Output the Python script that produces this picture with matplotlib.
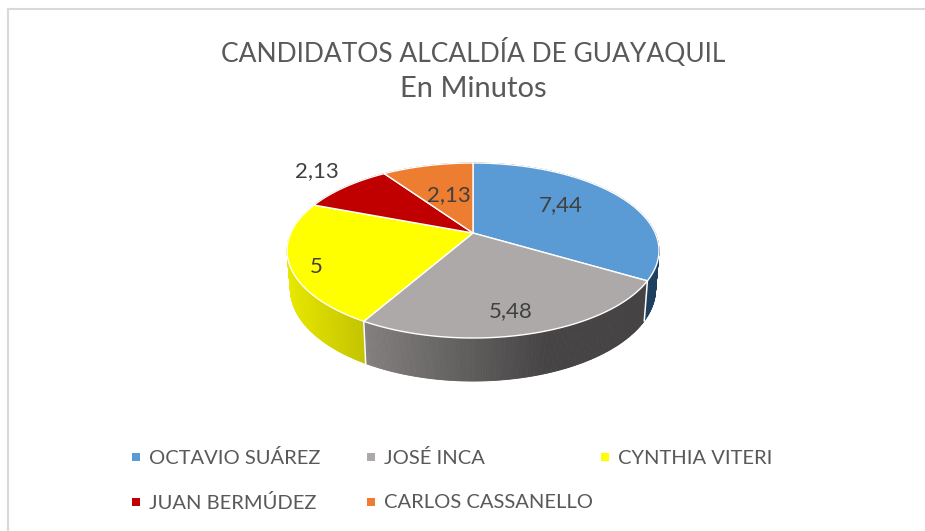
import numpy as np
import matplotlib
matplotlib.use("Agg")
import matplotlib.pyplot as plt
from matplotlib.colors import to_rgb

plt.rcParams['font.family'] = ['Lato', 'DejaVu Sans']

candidates = ["OCTAVIO SUÁREZ", "JOSÉ INCA", "CYNTHIA VITERI", "JUAN BERMÚDEZ", "CARLOS CASSANELLO"]
minutes = [7.44, 5.48, 5, 2.13, 2.13]
value_labels = ["7,44", "5,48", "5", "2,13", "2,13"]
colors = ["#5B9BD5", "#ADA9A9", "#FFFF00", "#C00000", "#ED7D31"]
# side wall gradient, left end and right end
wall_left = ["#1F3F5F", "#827F7E", "#E8E800", "#700000", "#8A4A1C"]
wall_right = ["#1F3F5F", "#454343", "#C4C400", "#700000", "#8A4A1C"]
title_lines = ["CANDIDATOS ALCALDÍA DE GUAYAQUIL", "En Minutos"]

label_pos = [(561, 205), (511, 311), (316, 267), (317, 171), (449, 195)]
legend_pos = [(136, 458), (371, 458), (605, 458), (136, 503), (371, 503)]

# tilted disc on the page, in pixels
CX, CY = 473, 233
BX, AY, K = 182.2, 84.0, 0.2


def project(theta):
    # theta clockwise from 12 o'clock, perspective foreshortening of the unit circle
    x, y = np.sin(theta), np.cos(theta)
    d = 1 + K * y
    return CX + BX * x / d, CY - AY * y / d


def lower_rim(theta):
    px, py = project(theta)
    drop = 37.5 + 0.053 * (py - CY)
    return CX + (px - CX) * 0.982, py + drop


fig = plt.figure(figsize=(9.25, 5.31), dpi=100)
ax = fig.add_axes([0, 0, 1, 1])
ax.set_xlim(0, 925)
ax.set_ylim(531, 0)
ax.axis("off")

# chart frame
ax.plot([8, 8], [531, 9], color="#D9D9D9", lw=1.5)
ax.plot([8, 925], [9, 9], color="#D9D9D9", lw=1.5)

bounds = np.concatenate([[0], np.cumsum(minutes)]) / sum(minutes) * 2 * np.pi

# side walls first, back to front
strips = []
for i in range(len(minutes)):
    n = max(int((bounds[i + 1] - bounds[i]) * 120), 2)
    t = np.linspace(bounds[i], bounds[i + 1], n + 1)
    tx, ty = project(t)
    bx, by = lower_rim(t)
    lo, hi = bx.min(), bx.max()
    c0, c1 = np.array(to_rgb(wall_left[i])), np.array(to_rgb(wall_right[i]))
    for j in range(n):
        mid = (bx[j] + bx[j + 1]) / 2
        if i == 1:
            # the grey wall reaches its darkest before the right end
            f = min(max((mid - 368) / 177, 0), 1)
        else:
            f = (mid - lo) / max(hi - lo, 1)
        col = c0 + (c1 - c0) * f
        strips.append((ty[j], [tx[j], tx[j + 1], bx[j + 1], bx[j]], [ty[j], ty[j + 1], by[j + 1], by[j]], col))

for _, xs, ys, col in sorted(strips, key=lambda s: s[0]):
    ax.fill(xs, ys, color=col, lw=0.6, zorder=2)

# white seams on the visible wall joints
for b in bounds[1:3]:
    tx, ty = project(b)
    bx, by = lower_rim(b)
    ax.plot([tx, bx], [ty, by], color="white", lw=1.1, zorder=3)

# top surface
for i in range(len(minutes)):
    t = np.linspace(bounds[i], bounds[i + 1], 200)
    px, py = project(t)
    ax.fill(np.r_[CX, px], np.r_[CY, py], facecolor=colors[i], edgecolor="white", lw=1.0, zorder=4)

for text, (x, y) in zip(value_labels, label_pos):
    ax.text(x, y, text, fontsize=16, color="#404040", ha="center", va="center", zorder=5)

ax.text(473, 52, title_lines[0], fontsize=19, color="#595959", ha="center", va="center")
ax.text(473, 89, title_lines[1], fontsize=21, color="#595959", ha="center", va="center")

for name, col, (x, y) in zip(candidates, colors, legend_pos):
    ax.plot([x], [y - 1], marker="s", ms=5.5, color=col, mew=0)
    ax.text(x + 13, y, name, fontsize=14.5, color="#595959", ha="left", va="center")

fig.savefig("out.png", dpi=100)
